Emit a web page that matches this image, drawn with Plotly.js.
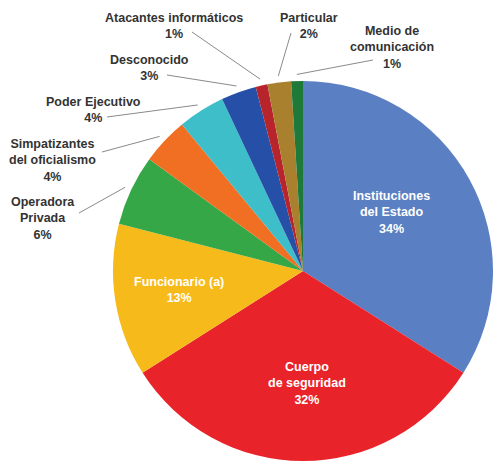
<!DOCTYPE html>
<html>
<head>
<meta charset="utf-8">
<script src="https://cdn.plot.ly/plotly-3.0.1.min.js"></script>
<style>html,body{margin:0;padding:0;background:#fff;}#chart{width:493px;height:463px;}</style>
</head>
<body>
<div id="chart"></div>
<script>
// ---- data ----
const categories = ['Instituciones del Estado', 'Cuerpo de seguridad', 'Funcionario (a)', 'Operadora Privada',
  'Simpatizantes del oficialismo', 'Poder Ejecutivo', 'Desconocido', 'Atacantes informáticos', 'Particular', 'Medio de comunicación'];
const values = [34, 32, 13, 6, 4, 4, 3, 1, 2, 1];
const labelTexts = ['Instituciones<br>del Estado', 'Cuerpo<br>de seguridad', 'Funcionario (a)', 'Operadora<br>Privada',
  'Simpatizantes<br>del oficialismo', 'Poder Ejecutivo', 'Desconocido', 'Atacantes informáticos', 'Particular', 'Medio de<br>comunicación'];
const colors = ['#5A7FC2', '#E8232A', '#F7BA1B', '#35A746', '#F06F22', '#3DBEC9', '#2650A8', '#B7242B', '#A9812E', '#1F7A3A'];

// ---- layout config (pixels) ----
const W = 493, H = 463;
const CX = 303, CY = 271, R = 190;
const inside = [true, true, true, false, false, false, false, false, false, false];
const labelPos = [[391, 213], [307, 383], [179, 290], [43, 218], [52, 161], [93, 110], [149, 68], [174, 26], [309, 26], [392, 47]];
const lineStart = [null, null, null, [79, 213], [102, 152], [107, 117], [167, 75], [192, 32], [291, 33], [373, 60]];

const px = x => x / W, py = y => 1 - y / H;
const total = values.reduce((a, b) => a + b, 0);

const annotations = [];
const shapes = [];
let cum = 0;
values.forEach((v, i) => {
  const mid = (cum + v / 2) / total * 2 * Math.PI;
  cum += v;
  const txt = labelTexts[i] + '<br>' + v + '%';
  annotations.push({
    xref: 'paper', yref: 'paper', x: px(labelPos[i][0]), y: py(labelPos[i][1]),
    xanchor: 'center', yanchor: 'middle', showarrow: false, align: 'center',
    text: '<b>' + txt + '</b>',
    font: {family: 'Liberation Sans, Arial, sans-serif', size: 12.5, color: inside[i] ? '#ffffff' : '#333333'}
  });
  if (!inside[i]) {
    const tx = CX + Math.sin(mid) * R * 1.035;
    const ty = CY - Math.cos(mid) * R * 1.035;
    shapes.push({
      type: 'line', xref: 'paper', yref: 'paper',
      x0: px(lineStart[i][0]), y0: py(lineStart[i][1]), x1: px(tx), y1: py(ty),
      line: {color: '#8a8a8a', width: 1}
    });
  }
});

const trace = {
  type: 'pie',
  labels: categories,
  values: values,
  sort: false,
  direction: 'clockwise',
  rotation: 0,
  marker: {colors: colors, line: {width: 0}},
  textinfo: 'none',
  hoverinfo: 'label+percent',
  domain: {x: [px(CX - R), px(CX + R)], y: [py(CY + R), py(CY - R)]},
  showlegend: false
};

Plotly.newPlot('chart', [trace], {
  width: W, height: H,
  margin: {l: 0, r: 0, t: 0, b: 0},
  paper_bgcolor: '#ffffff',
  showlegend: false,
  annotations: annotations,
  shapes: shapes
}, {displayModeBar: false, staticPlot: true});
</script>
</body>
</html>
